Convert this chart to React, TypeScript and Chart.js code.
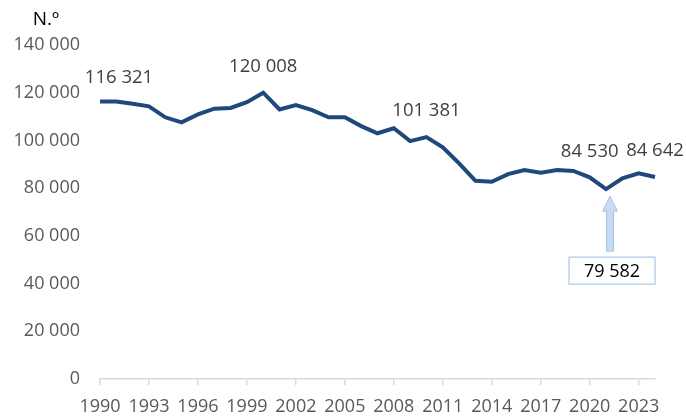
import React, { useEffect, useRef } from "react";
import { Chart, registerables } from "chart.js";

Chart.register(...registerables);

const years: string[] = [
  "1990","1991","1992","1993","1994","1995","1996","1997","1998","1999",
  "2000","2001","2002","2003","2004","2005","2006","2007","2008","2009",
  "2010","2011","2012","2013","2014","2015","2016","2017","2018","2019",
  "2020","2021","2022","2023","2024",
];

const values: number[] = [
  116321, 116300, 115400, 114300, 109700, 107600, 110900, 113300, 113600, 116000,
  120008, 113000, 114800, 112700, 109700, 109700, 106000, 103000, 105100, 99700,
  101381, 97100, 90400, 83100, 82700, 85900, 87600, 86500, 87600, 87200,
  84530, 79582, 84100, 86200, 84642,
];

const yTicks: number[] = [0, 20000, 40000, 60000, 80000, 100000, 120000, 140000];

const labelledYears: string[] = ["1990", "2000", "2010", "2020", "2024"];
const calloutYear = "2021";
const unitLabel = "N.º";

const fmt = (n: number) =>
  Math.round(n).toString().replace(/\B(?=(\d{3})+(?!\d))/g, " ");

const FONT = "'Open Sans', sans-serif";

export default function App() {
  const ref = useRef<HTMLCanvasElement | null>(null);

  useEffect(() => {
    if (!ref.current) return;

    const overlay = {
      id: "overlay",
      afterDatasetsDraw(chart: any) {
        const ctx = chart.ctx;
        const meta = chart.getDatasetMeta(0);
        ctx.save();
        // unit label
        ctx.fillStyle = "#000000";
        ctx.font = `19px ${FONT}`;
        ctx.textAlign = "center";
        ctx.textBaseline = "middle";
        ctx.fillText(unitLabel, 46, 20);

        // data labels
        ctx.fillStyle = "#404040";
        ctx.font = `18.5px ${FONT}`;
        labelledYears.forEach((yr) => {
          const i = years.indexOf(yr);
          const pt = meta.data[i];
          const dx = i === 0 ? 19 : 0;
          const dy = i === 0 ? -24 : -26;
          ctx.fillText(fmt(values[i]), pt.x + dx, pt.y + dy);
        });

        // callout arrow + box
        const ci = years.indexOf(calloutYear);
        const cp = meta.data[ci];
        const ax = cp.x + 4;
        const tipY = cp.y + 7;
        const baseY = cp.y + 62;
        ctx.fillStyle = "#C9DBF2";
        ctx.strokeStyle = "#A7C2E6";
        ctx.lineWidth = 1;
        ctx.beginPath();
        ctx.moveTo(ax, tipY);
        ctx.lineTo(ax + 7.5, tipY + 15);
        ctx.lineTo(ax + 3.5, tipY + 15);
        ctx.lineTo(ax + 3.5, baseY);
        ctx.lineTo(ax - 3.5, baseY);
        ctx.lineTo(ax - 3.5, tipY + 15);
        ctx.lineTo(ax - 7.5, tipY + 15);
        ctx.closePath();
        ctx.fill();
        ctx.stroke();

        const bx = cp.x - 37;
        const by = cp.y + 68;
        const bw = 86;
        const bh = 27;
        ctx.fillStyle = "#ffffff";
        ctx.fillRect(bx, by, bw, bh);
        ctx.strokeStyle = "#BDD3EE";
        ctx.lineWidth = 1.5;
        ctx.strokeRect(bx, by, bw, bh);
        ctx.fillStyle = "#000000";
        ctx.font = `18px ${FONT}`;
        ctx.fillText(fmt(values[ci]), bx + bw / 2, by + bh / 2 + 1);
        ctx.restore();
      },
    };

    const chart = new Chart(ref.current, {
      type: "line",
      data: {
        labels: years,
        datasets: [
          {
            data: values,
            borderColor: "#1F497D",
            borderWidth: 4,
            pointRadius: 0,
            tension: 0,
            fill: false,
          },
        ],
      },
      options: {
        animation: false,
        responsive: false,
        maintainAspectRatio: false,
        layout: { padding: { top: 45, right: 31, left: 0, bottom: 0 } },
        plugins: { legend: { display: false }, tooltip: { enabled: false } },
        scales: {
          x: {
            offset: false,
            grid: {
              drawOnChartArea: false,
              drawTicks: true,
              tickLength: 6,
              color: (c: any) => (c.index % 3 === 0 ? "#D9D9D9" : "rgba(0,0,0,0)"),
              lineWidth: 1.5,
            },
            border: { display: true, color: "#D9D9D9", width: 1.5 },
            ticks: {
              autoSkip: false,
              maxRotation: 0,
              minRotation: 0,
              padding: 11,
              color: "#595959",
              font: { family: FONT, size: 18 },
              callback: (_v: any, i: number) => (i % 3 === 0 ? years[i] : ""),
            },
            afterFit: (s: any) => {
              s.height = 37;
            },
          },
          y: {
            min: 0,
            max: 140000,
            afterBuildTicks: (s: any) => {
              s.ticks = yTicks.map((v) => ({ value: v }));
            },
            grid: { display: false },
            border: { display: false },
            ticks: {
              padding: 12,
              color: "#595959",
              font: { family: FONT, size: 18 },
              callback: (v: any) => fmt(Number(v)),
            },
            afterFit: (s: any) => {
              s.width = 100;
            },
          },
        },
      },
      plugins: [overlay],
    });
    return () => chart.destroy();
  }, []);

  return (
    <div style={{ position: "fixed", left: 0, top: 0, width: 686, height: 416, background: "#fff" }}>
      <canvas ref={ref} width={686} height={416} style={{ width: 686, height: 416 }} />
    </div>
  );
}
